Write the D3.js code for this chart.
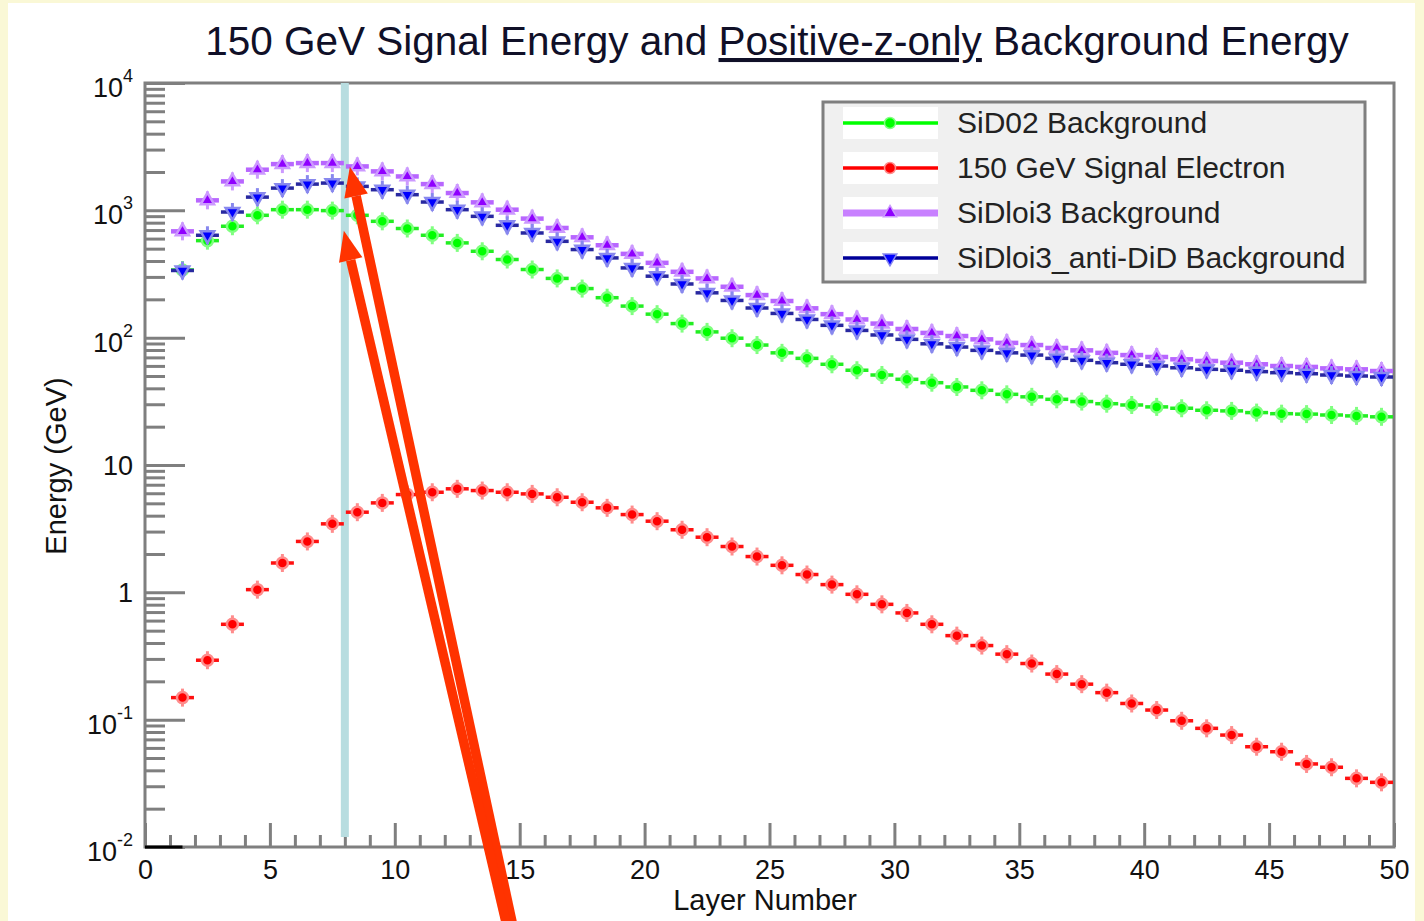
<!DOCTYPE html>
<html>
<head>
<meta charset="utf-8">
<script src="https://cdn.jsdelivr.net/npm/d3@7"></script>
<style>
  body { margin: 0; background: #faf8d6; }
  svg { display: block; font-family: "Liberation Sans", Arial, sans-serif; }
</style>
</head>
<body>
<div id="chart"></div>
<script>
// bin centres (layer number)
const layers = [1.5, 2.5, 3.5, 4.5, 5.5, 6.5, 7.5, 8.5, 9.5, 10.5, 11.5, 12.5, 13.5, 14.5, 15.5,
  16.5, 17.5, 18.5, 19.5, 20.5, 21.5, 22.5, 23.5, 24.5, 25.5, 26.5, 27.5, 28.5, 29.5, 30.5,
  31.5, 32.5, 33.5, 34.5, 35.5, 36.5, 37.5, 38.5, 39.5, 40.5, 41.5, 42.5, 43.5, 44.5, 45.5,
  46.5, 47.5, 48.5, 49.5];

const sid02 = [340, 578, 750, 914, 1012, 1012, 995, 914, 820, 720, 637, 555, 477, 411, 343,
  292, 243, 206, 177, 153, 129, 111, 99, 87.5, 76, 68.8, 61.8, 55.5, 50.9, 47.1,
  44.3, 41, 38.6, 35.9, 34.3, 32.8, 31.5, 30.3, 29.6, 28.6, 27.9, 26.9, 26.6, 25.8, 25.3,
  25.1, 24.7, 24.3, 23.9];

const signal = [0.149, 0.293, 0.561, 1.05, 1.70, 2.51, 3.45, 4.26, 5.04, 5.86, 6.11, 6.50, 6.30, 6.11, 5.93,
  5.58, 5.10, 4.61, 4.08, 3.62, 3.10, 2.71, 2.29, 1.91, 1.63, 1.38, 1.15, 0.965, 0.805, 0.689,
  0.561, 0.457, 0.382, 0.327, 0.276, 0.228, 0.190, 0.163, 0.134, 0.119, 0.098, 0.0855, 0.0757, 0.0613, 0.056,
  0.0449, 0.0423, 0.0346, 0.0322];

const sidloi3 = [684, 1198, 1687, 2085, 2307, 2350, 2350, 2213, 2022, 1846, 1607, 1367, 1155, 1012, 861,
  727, 614, 532, 455, 387, 329, 292, 251, 216, 194, 170, 153, 139, 129, 117,
  109, 103, 97, 91, 87.5, 83, 79.5, 76, 73, 70.5, 67.6, 65.6, 63.6, 61.8, 59.9,
  58.9, 57.4, 56.4, 54.7];

const antiDid = [337, 637, 970, 1270, 1495, 1607, 1637, 1542, 1452, 1327, 1162, 1012, 897, 763, 664,
  571, 492, 423, 353, 304, 264, 225, 196, 171, 155, 139, 125, 114, 105, 97,
  89.5, 84.4, 79.5, 76, 73, 68.8, 66.4, 63.6, 61.8, 59.9, 58, 56.4, 55.5, 54.1, 53.1,
  52.1, 50.9, 50, 49.1];

const seriesNames = ["SiD02 Background", "150 GeV Signal Electron", "SiDloi3 Background", "SiDloi3_anti-DiD Background"];

const xTickValues = [0, 5, 10, 15, 20, 25, 30, 35, 40, 45, 50];
const yTickValues = [0.01, 0.1, 1, 10, 100, 1000, 10000];
const yTickBase = ["10", "10", "1", "10", "10", "10", "10"];
const yTickExp = ["-2", "-1", "", "", "2", "3", "4"];

const cutLayer = 8;            // light blue marker line
// annotation arrows, [layer, energy] for tip and tail
const arrows = [
  { tip: [8.2, 2200], tail: [14.77, 0.0022] },
  { tip: [7.96, 690], tail: [14.53, 0.0022] }
];

// ---- styles ----
const styles = [
  { bar: "#22ee22", barW: 3.5, fill: "#00ff00", halo: "#80ff80", shape: "circle", size: 95 },
  { bar: "#ff1010", barW: 3.5, fill: "#ff0000", halo: "#ff8c8c", shape: "circle", size: 95 },
  { bar: "#b866ff", barW: 4.5, fill: "#8f00ff", halo: "#cc99ff", shape: "up", size: 75 },
  { bar: "#2828a0", barW: 3.5, fill: "#0000ff", halo: "#8888ee", shape: "down", size: 80 }
];
const legendLine = ["#00ff00", "#ff0000", "#c880ff", "#000099"];
const legendLineW = [3.5, 3.5, 7, 3.5];

const W = 1424, H = 921;
const svg = d3.select("#chart").append("svg")
  .attr("width", W).attr("height", H);

// white canvas on yellow page
svg.append("rect").attr("x", 8).attr("y", 3).attr("width", 1407).attr("height", H)
  .attr("fill", "#ffffff");

const x = d3.scaleLinear().domain([0, 50]).range([145, 1394]);
const y = d3.scaleLog().domain([0.01, 10000]).range([847, 83]);

const gray = "#7f7f7f";

// title
const title = svg.append("text")
  .attr("x", 777).attr("y", 55)
  .attr("text-anchor", "middle")
  .style("font-size", "40.5px")
  .attr("fill", "#101028");
title.append("tspan").text("150 GeV Signal Energy and ");
title.append("tspan").style("text-decoration", "underline").text("Positive-z-only");
title.append("tspan").text(" Background Energy");

// frame
svg.append("rect")
  .attr("x", x(0)).attr("y", y(10000))
  .attr("width", x(50) - x(0)).attr("height", y(0.01) - y(10000))
  .attr("fill", "none").attr("stroke", gray).attr("stroke-width", 3);

// x ticks (inside, pointing up)
const xMinor = d3.range(0, 51).filter(v => v % 5 !== 0);
svg.append("g").attr("transform", `translate(0,${y(0.01)})`)
  .call(d3.axisBottom(x).tickValues(xMinor).tickSize(-12).tickFormat(""))
  .call(g => g.select(".domain").remove())
  .selectAll("line").attr("stroke", gray).attr("stroke-width", 3);

const xAxis = svg.append("g").attr("transform", `translate(0,${y(0.01)})`)
  .call(d3.axisBottom(x).tickValues(xTickValues).tickSize(-24).tickPadding(13))
  .call(g => g.select(".domain").remove());
xAxis.selectAll("line").attr("stroke", gray).attr("stroke-width", 3);
xAxis.selectAll("text").style("font-size", "27px").attr("fill", "#111")
  .style("font-family", "Liberation Sans, Arial, sans-serif");

// y ticks
const yMinor = [];
yTickValues.slice(0, -1).forEach(d => { for (let k = 2; k <= 9; k++) yMinor.push(d * k); });
svg.append("g").attr("transform", `translate(${x(0)},0)`)
  .call(d3.axisLeft(y).tickValues(yMinor).tickSize(-20).tickFormat(""))
  .call(g => g.select(".domain").remove())
  .selectAll("line").attr("stroke", gray).attr("stroke-width", 3);
svg.append("g").attr("transform", `translate(${x(0)},0)`)
  .call(d3.axisLeft(y).tickValues(yTickValues).tickSize(-40).tickFormat(""))
  .call(g => g.select(".domain").remove())
  .selectAll("line").attr("stroke", gray).attr("stroke-width", 3);

// y tick labels with superscripts
yTickValues.forEach((v, i) => {
  const t = svg.append("text")
    .attr("x", 133)
    .attr("y", y(v) + (yTickExp[i] ? 14 : 10))
    .attr("text-anchor", "end")
    .style("font-size", "27px").attr("fill", "#111");
  t.append("tspan").text(yTickBase[i]);
  if (yTickExp[i]) {
    t.append("tspan").attr("dy", -15).style("font-size", "18px").text(yTickExp[i]);
  }
});

// axis titles
svg.append("text")
  .attr("transform", `translate(66,466) rotate(-90)`)
  .attr("text-anchor", "middle")
  .style("font-size", "29px").attr("fill", "#111")
  .text("Energy (GeV)");
svg.append("text")
  .attr("x", 765).attr("y", 910)
  .attr("text-anchor", "middle")
  .style("font-size", "29px").attr("fill", "#111")
  .text("Layer Number");

// small dark stub on the axis at the first bins
svg.append("line")
  .attr("x1", x(0)).attr("x2", x(1.5))
  .attr("y1", y(0.01)).attr("y2", y(0.01))
  .attr("stroke", "#000").attr("stroke-width", 3);

// vertical cut line
svg.append("line")
  .attr("x1", x(cutLayer)).attr("x2", x(cutLayer))
  .attr("y1", y(10000)).attr("y2", y(0.01) - 10)
  .attr("stroke", "#b8dde0").attr("stroke-width", 8);

// series
const allSeries = [sid02, signal, sidloi3, antiDid];

function markerPath(st) {
  if (st.shape === "circle") return d3.symbol(d3.symbolCircle, st.size)();
  return d3.symbol(d3.symbolTriangle, st.size)();
}

allSeries.forEach((vals, si) => {
  const st = styles[si];
  const g = svg.append("g");
  const pts = layers.map((l, i) => ({ l, v: vals[i] }));
  g.selectAll("line.bar").data(pts).join("line")
    .attr("class", "bar")
    .attr("x1", d => x(d.l - 0.5) + 1).attr("x2", d => x(d.l + 0.5) - 1)
    .attr("y1", d => y(d.v)).attr("y2", d => y(d.v))
    .attr("stroke", st.bar).attr("stroke-width", st.barW);
  g.selectAll("line.err").data(pts).join("line")
    .attr("class", "err")
    .attr("x1", d => x(d.l)).attr("x2", d => x(d.l))
    .attr("y1", d => y(d.v) - 9).attr("y2", d => y(d.v) + 9)
    .attr("stroke", st.halo).attr("stroke-width", 3);
  g.selectAll("path").data(pts).join("path")
    .attr("d", markerPath(st))
    .attr("transform", d => `translate(${x(d.l)},${y(d.v)})` + (st.shape === "down" ? " rotate(180)" : ""))
    .attr("fill", st.fill)
    .attr("stroke", st.halo).attr("stroke-width", 2.5);
});

// legend
const lg = svg.append("g");
lg.append("rect")
  .attr("x", 823).attr("y", 102).attr("width", 542).attr("height", 180)
  .attr("fill", "#f0f0f0").attr("stroke", gray).attr("stroke-width", 3);
const rowY = [123, 168, 213, 258];
seriesNames.forEach((name, i) => {
  const st = styles[i];
  lg.append("rect").attr("x", 843).attr("y", rowY[i] - 16).attr("width", 95).attr("height", 32)
    .attr("fill", "#ffffff");
  lg.append("line").attr("x1", 843).attr("x2", 938).attr("y1", rowY[i]).attr("y2", rowY[i])
    .attr("stroke", legendLine[i]).attr("stroke-width", legendLineW[i]);
  lg.append("path").attr("d", markerPath(st))
    .attr("transform", `translate(890,${rowY[i]})` + (st.shape === "down" ? " rotate(180)" : ""))
    .attr("fill", st.fill).attr("stroke", st.halo).attr("stroke-width", 1.5);
  lg.append("text").attr("x", 957).attr("y", rowY[i] + 10)
    .style("font-size", "30px").attr("fill", "#222")
    .text(name);
});

// annotation arrows
const arrowColor = "#ff3300";
arrows.forEach(a => {
  const tx = x(a.tip[0]), ty = y(a.tip[1]);
  const bx = x(a.tail[0]), by = y(a.tail[1]);
  const ang = Math.atan2(ty - by, tx - bx);
  const headLen = 30, headHalf = 12;
  const hx = tx - headLen * Math.cos(ang), hy = ty - headLen * Math.sin(ang);
  svg.append("line")
    .attr("x1", bx).attr("y1", by).attr("x2", hx).attr("y2", hy)
    .attr("stroke", arrowColor).attr("stroke-width", 9.5);
  const px = -Math.sin(ang), py = Math.cos(ang);
  svg.append("path")
    .attr("d", `M${tx},${ty}L${hx + px * headHalf},${hy + py * headHalf}L${hx - px * headHalf},${hy - py * headHalf}Z`)
    .attr("fill", arrowColor);
});
</script>
</body>
</html>
